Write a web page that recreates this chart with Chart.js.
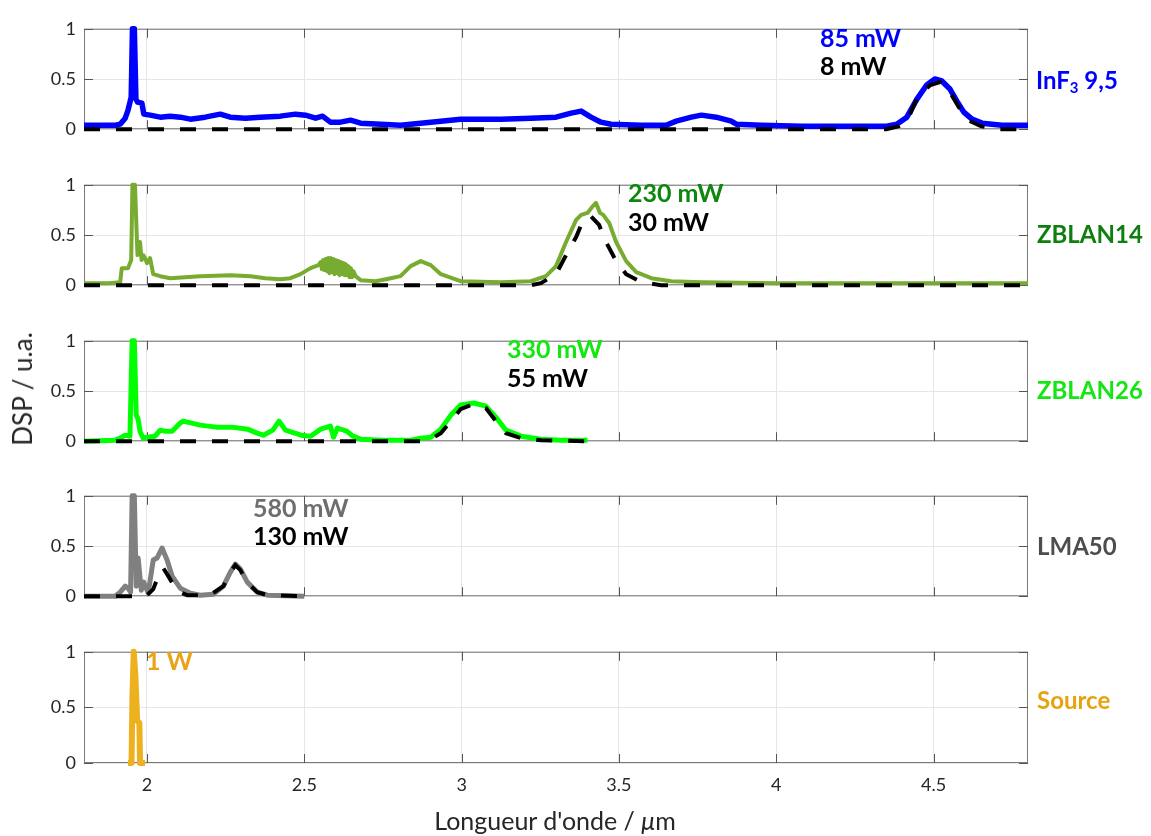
<!DOCTYPE html>
<html>
<head>
<meta charset="utf-8">
<script src="https://cdn.jsdelivr.net/npm/chart.js@4.4.0/dist/chart.umd.min.js"></script>
<style>
  html, body { margin: 0; padding: 0; background: #fff; }
  #page { position: relative; width: 1151px; height: 836px; overflow: hidden; font-family: Lato, "Open Sans", sans-serif; }
  canvas { position: absolute; left: 0; }
  .lbl { position: absolute; font-weight: bold; font-size: 24px; line-height: 1; white-space: nowrap; transform: translateY(-50%); }
  .ann { font-size: 25px; }
  .lbl sub { font-size: 15px; vertical-align: -4px; line-height: 0; }
  #ytitle { position: absolute; left: 22px; top: 389px; font-size: 26px; color: #262626; white-space: nowrap; transform: translate(-50%, -50%) rotate(-90deg); }
  #xtitle { position: absolute; left: 555px; top: 820px; font-size: 25px; color: #262626; white-space: nowrap; transform: translate(-50%, -50%); }
</style>
</head>
<body>
<div id="page">
  <div class="lbl" style="left:1036px; top:80px; color:#0000ff;">InF<sub>3</sub> 9,5</div>
  <div class="lbl" style="left:1037px; top:234px; color:#0e7f0e;">ZBLAN14</div>
  <div class="lbl" style="left:1037px; top:390px; color:#14e614;">ZBLAN26</div>
  <div class="lbl" style="left:1037px; top:546px; color:#4d4d4d;">LMA50</div>
  <div class="lbl" style="left:1037px; top:700px; color:#e6a30f;">Source</div>

  <div class="lbl ann" style="left:820px; top:37px; color:#0000ff;">85 mW</div>
  <div class="lbl ann" style="left:820px; top:65px; color:#000;">8 mW</div>
  <div class="lbl ann" style="left:628px; top:192px; color:#0d870d;">230 mW</div>
  <div class="lbl ann" style="left:628px; top:221px; color:#000;">30 mW</div>
  <div class="lbl ann" style="left:507px; top:348px; color:#14e614;">330 mW</div>
  <div class="lbl ann" style="left:507px; top:377px; color:#000;">55 mW</div>
  <div class="lbl ann" style="left:253px; top:507px; color:#6e6e6e;">580 mW</div>
  <div class="lbl ann" style="left:253px; top:535px; color:#000;">130 mW</div>
  <div class="lbl ann" style="left:146px; top:660px; color:#e8a317;">1 W</div>

  <div id="ytitle">DSP / u.a.</div>
  <div id="xtitle">Longueur d'onde / <i>&mu;</i>m</div>
</div>
<script>
// axis ticks
const xTickValues = [2, 2.5, 3, 3.5, 4, 4.5];
const yTickValues = [0, 0.5, 1];

// InF3 9,5 (85 mW) and its 8 mW dashed curve
const inf3X = [1.80, 1.86, 1.90, 1.915, 1.931, 1.94, 1.95, 1.954, 1.960, 1.965, 1.970, 1.984, 1.990, 2.01, 2.042, 2.074, 2.106, 2.138, 2.185, 2.233,
  2.265, 2.313, 2.36, 2.424, 2.472, 2.504, 2.536, 2.558, 2.583, 2.615, 2.647, 2.679, 2.743, 2.806, 2.87, 2.934, 2.997, 3.077, 3.125, 3.22,
  3.3, 3.348, 3.38, 3.411, 3.443, 3.475, 3.571, 3.65, 3.682, 3.73, 3.762, 3.809, 3.857, 3.873, 3.953, 4.08, 4.24, 4.351, 4.383, 4.415,
  4.447, 4.478, 4.504, 4.526, 4.552, 4.574, 4.596, 4.622, 4.654, 4.717, 4.80];
const inf3Y = [0.04, 0.04, 0.04, 0.05, 0.11, 0.19, 0.32, 1.0, 1.0, 0.30, 0.27, 0.26, 0.15, 0.14, 0.12, 0.13, 0.12, 0.10, 0.12, 0.15,
  0.12, 0.11, 0.12, 0.13, 0.15, 0.14, 0.11, 0.13, 0.07, 0.07, 0.09, 0.06, 0.05, 0.04, 0.06, 0.08, 0.10, 0.10, 0.10, 0.11,
  0.12, 0.16, 0.18, 0.12, 0.07, 0.05, 0.04, 0.04, 0.08, 0.12, 0.14, 0.12, 0.08, 0.05, 0.04, 0.03, 0.03, 0.03, 0.05, 0.12,
  0.30, 0.44, 0.50, 0.48, 0.40, 0.28, 0.17, 0.10, 0.06, 0.04, 0.04];
const inf3DashX = [1.80, 4.35, 4.39, 4.42, 4.45, 4.49, 4.52, 4.55, 4.58, 4.61, 4.65, 4.70, 4.80];
const inf3DashY = [0, 0, 0.03, 0.11, 0.33, 0.44, 0.47, 0.38, 0.22, 0.09, 0.03, 0, 0];

// ZBLAN14 (230 mW) and 30 mW dashed
const zb14X = [1.80, 1.88, 1.915, 1.92, 1.94, 1.95, 1.954, 1.962, 1.966, 1.970, 1.975, 1.978, 1.983, 1.988, 1.994, 2.00, 2.01, 2.02, 2.042, 2.074,
  2.169, 2.265, 2.329, 2.376, 2.424, 2.456, 2.488, 2.52, 2.545,
  2.552, 2.556, 2.560, 2.564, 2.568, 2.572, 2.576, 2.580, 2.584, 2.588, 2.592, 2.596, 2.600, 2.604, 2.608, 2.612,
  2.616, 2.620, 2.624, 2.628, 2.632, 2.636, 2.640, 2.644, 2.648, 2.652, 2.656,
  2.663, 2.679, 2.727, 2.775, 2.806, 2.838, 2.87, 2.902, 2.934, 2.997, 3.125, 3.22, 3.268, 3.30, 3.332, 3.364, 3.38, 3.40, 3.415, 3.427,
  3.44, 3.45, 3.469, 3.491, 3.523, 3.555, 3.603, 3.666, 3.762, 4.0, 4.5, 4.80];
const zb14Y = [0.02, 0.02, 0.03, 0.17, 0.17, 0.25, 1.0, 1.0, 0.64, 0.30, 0.43, 0.43, 0.25, 0.30, 0.27, 0.22, 0.27, 0.11, 0.09, 0.07,
  0.09, 0.10, 0.09, 0.07, 0.06, 0.07, 0.11, 0.17, 0.20,
  0.23, 0.16, 0.25, 0.15, 0.26, 0.14, 0.27, 0.12, 0.27, 0.13, 0.26, 0.11, 0.25, 0.12, 0.24, 0.10,
  0.23, 0.11, 0.22, 0.10, 0.21, 0.10, 0.19, 0.08, 0.17, 0.08, 0.14,
  0.09, 0.05, 0.04, 0.07, 0.09, 0.19, 0.24, 0.20, 0.11, 0.04, 0.03, 0.04, 0.09, 0.19, 0.43, 0.65, 0.70, 0.72, 0.78, 0.82,
  0.72, 0.70, 0.62, 0.43, 0.24, 0.13, 0.07, 0.04, 0.03, 0.02, 0.02, 0.02];
const zb14DashX = [1.80, 3.22, 3.252, 3.30, 3.332, 3.364, 3.38, 3.41, 3.437, 3.459, 3.491, 3.523, 3.571, 3.634, 4.80];
const zb14DashY = [0, 0, 0.02, 0.11, 0.30, 0.48, 0.60, 0.69, 0.60, 0.43, 0.24, 0.11, 0.03, 0, 0];

// ZBLAN26 (330 mW) and 55 mW dashed
const zb26X = [1.80, 1.899, 1.915, 1.931, 1.946, 1.953, 1.960, 1.966, 1.972, 1.978, 1.988, 2.00, 2.026, 2.042, 2.058, 2.08, 2.105, 2.115, 2.169, 2.22,
  2.27, 2.32, 2.35, 2.37, 2.40, 2.42, 2.44, 2.49, 2.52, 2.552, 2.583, 2.593, 2.605, 2.635, 2.655, 2.679, 2.75, 2.838, 2.87, 2.902,
  2.934, 2.966, 2.997, 3.039, 3.077, 3.109, 3.141, 3.189, 3.252, 3.316, 3.40];
const zb26Y = [0.00, 0.01, 0.03, 0.06, 0.05, 1.0, 1.0, 0.26, 0.22, 0.10, 0.03, 0.04, 0.05, 0.11, 0.10, 0.10, 0.18, 0.20, 0.16, 0.14,
  0.14, 0.12, 0.08, 0.06, 0.11, 0.20, 0.11, 0.06, 0.05, 0.12, 0.15, 0.04, 0.13, 0.10, 0.05, 0.02, 0.01, 0.01, 0.03, 0.04,
  0.12, 0.26, 0.36, 0.38, 0.35, 0.24, 0.11, 0.05, 0.02, 0.01, 0.01];
const zb26DashX = [1.80, 2.87, 2.902, 2.934, 2.966, 2.997, 3.039, 3.077, 3.109, 3.141, 3.189, 3.252, 3.40];
const zb26DashY = [0, 0, 0.02, 0.08, 0.20, 0.32, 0.37, 0.33, 0.20, 0.08, 0.03, 0.01, 0];

// LMA50 (580 mW) and 130 mW dashed
const lmaX = [1.80, 1.899, 1.915, 1.931, 1.94, 1.948, 1.953, 1.960, 1.966, 1.972, 1.982, 1.99, 2.004, 2.02, 2.032, 2.048, 2.064, 2.08, 2.106, 2.138,
  2.169, 2.211, 2.243, 2.265, 2.281, 2.297, 2.319, 2.351, 2.383, 2.50];
const lmaY = [0.00, 0.00, 0.04, 0.10, 0.08, 0.04, 1.0, 1.0, 0.10, 0.38, 0.06, 0.14, 0.03, 0.36, 0.38, 0.48, 0.36, 0.20, 0.08, 0.03,
  0.01, 0.02, 0.10, 0.24, 0.32, 0.27, 0.14, 0.04, 0.01, 0.00];
const lmaDashX = [1.80, 1.997, 2.02, 2.036, 2.052, 2.068, 2.096, 2.128, 2.20, 2.243, 2.265, 2.281, 2.297, 2.319, 2.351, 2.383, 2.50];
const lmaDashY = [0, 0, 0.07, 0.20, 0.28, 0.20, 0.05, 0.01, 0.01, 0.10, 0.24, 0.31, 0.26, 0.13, 0.04, 0.01, 0];

// Source (1 W)
const srcX = [1.94, 1.951, 1.954, 1.958, 1.963, 1.969, 1.976, 1.978, 1.994];
const srcY = [0, 0, 0.6, 1.0, 0.8, 0.38, 0.36, 0, 0];

const pts = (xs, ys) => xs.map((v, i) => ({ x: v, y: ys[i] }));

// panel plot area tops (px), each 122 px high
const panels = [
  { top: 18, lines: [[inf3DashX, inf3DashY, 'dash'], [inf3X, inf3Y, '#0000ff', 5.5]] },
  { top: 174, lines: [[zb14DashX, zb14DashY, 'dash'], [zb14X, zb14Y, '#77ac30', 4]] },
  { top: 330, lines: [[zb26DashX, zb26DashY, 'dash'], [zb26X, zb26Y, '#00ff00', 5]] },
  { top: 485, lines: [[lmaDashX, lmaDashY, 'dash'], [lmaX, lmaY, '#808080', 5]] },
  { top: 641, lines: [[srcX, srcY, '#edb120', 6]], bottom: true }
];

const PLOT_H = 122, PLOT_L = 84, PLOT_R = 1028, PAD = 8, XAXIS_H = 73;

// box + inward tick marks, drawn under the curves
const framePlugin = {
  id: 'frame',
  beforeDatasetsDraw(chart) {
    const { ctx, chartArea: a, scales: { x, y } } = chart;
    ctx.save();
    ctx.strokeStyle = '#7a7a7a';
    ctx.lineWidth = 1;
    ctx.strokeRect(a.left + 0.5, a.top + 0.5, a.width - 1, a.height - 1);
    ctx.strokeStyle = '#555';
    ctx.beginPath();
    xTickValues.forEach(v => {
      const px = Math.round(x.getPixelForValue(v)) + 0.5;
      ctx.moveTo(px, a.top); ctx.lineTo(px, a.top + 9);
      ctx.moveTo(px, a.bottom); ctx.lineTo(px, a.bottom - 9);
    });
    yTickValues.forEach(v => {
      const py = Math.round(y.getPixelForValue(v)) + 0.5;
      ctx.moveTo(a.left, py); ctx.lineTo(a.left + 9, py);
      ctx.moveTo(a.right, py); ctx.lineTo(a.right - 9, py);
    });
    ctx.stroke();
    ctx.restore();
  }
};

const page = document.getElementById('page');
const tickFont = { family: 'Lato, "Open Sans", sans-serif', size: 18 };
const plainNum = v => String(v);

panels.forEach(p => {
  const cv = document.createElement('canvas');
  const h = PAD + PLOT_H + (p.bottom ? XAXIS_H : PAD);
  cv.width = 1151; cv.height = h;
  cv.style.top = (p.top - PAD) + 'px';
  page.insertBefore(cv, page.firstChild);

  const datasets = p.lines.map(l => l[2] === 'dash' ? {
    data: pts(l[0], l[1]), borderColor: '#000', borderWidth: 4, borderDash: [16, 16],
    pointRadius: 0, tension: 0, borderCapStyle: 'butt', clip: false
  } : {
    data: pts(l[0], l[1]), borderColor: l[2], borderWidth: l[3],
    pointRadius: 0, tension: 0, borderJoinStyle: 'round', clip: false
  });

  new Chart(cv, {
    type: 'line',
    data: { datasets: datasets },
    options: {
      responsive: false,
      animation: false,
      devicePixelRatio: 1,
      layout: { padding: { left: 0, right: 1151 - PLOT_R, top: PAD, bottom: p.bottom ? 0 : PAD } },
      plugins: { legend: { display: false }, tooltip: { enabled: false } },
      scales: {
        x: {
          type: 'linear', min: 1.8, max: 4.8,
          afterBuildTicks: s => { s.ticks = xTickValues.map(v => ({ value: v })); },
          afterFit: s => { s.height = p.bottom ? XAXIS_H : 0; },
          grid: { color: '#e6e6e6', drawTicks: false },
          border: { display: false },
          ticks: { display: !!p.bottom, color: '#262626', font: tickFont, padding: 11, maxRotation: 0, callback: plainNum }
        },
        y: {
          min: 0, max: 1,
          afterBuildTicks: s => { s.ticks = yTickValues.map(v => ({ value: v })); },
          afterFit: s => { s.width = PLOT_L; },
          grid: { color: '#e6e6e6', drawTicks: false },
          border: { display: false },
          ticks: { color: '#262626', font: tickFont, padding: 8, callback: plainNum }
        }
      }
    },
    plugins: [framePlugin]
  });
});
</script>
</body>
</html>
